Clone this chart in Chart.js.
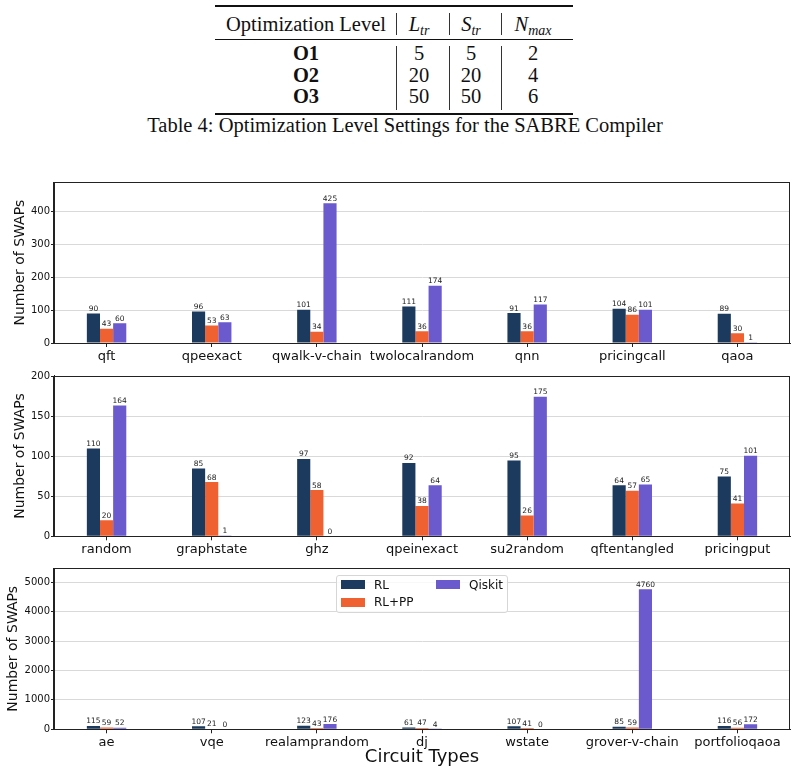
<!DOCTYPE html>
<html>
<head>
<meta charset="utf-8">
<script src="https://cdn.jsdelivr.net/npm/chart.js@4.4.1/dist/chart.umd.min.js"></script>
<style>
  body { margin: 0; background: #fff; }
  #page { position: relative; width: 796px; height: 774px; overflow: hidden; background: #fff; }
  .tbl { font-family: 'Liberation Serif', 'Times New Roman', serif; color: #111; }
  .rule { position: absolute; left: 215px; width: 358px; background: #111; }
  .vbar { position: absolute; width: 1px; background: #333; }
  .cell { position: absolute; width: 200px; margin-left: -100px; text-align: center;
          font-size: 20.5px; line-height: 20.5px; white-space: nowrap; }
  .cell sub { font-size: 14px; vertical-align: -4px; line-height: 0; }
  canvas { position: absolute; left: 0; }
  #legend { position: absolute; left: 336px; top: 575px; width: 170px; height: 36px;
            border: 1px solid #d6d6d6; border-radius: 3px; background: rgba(255,255,255,0.8);
            font-family: 'DejaVu Sans', sans-serif; font-size: 12px; color: #111; }
  .sw { position: absolute; width: 24px; height: 9px; }
  .lt { position: absolute; line-height: 12px; white-space: nowrap; }
</style>
</head>
<body>
<div id="page">
  <div id="table" class="tbl"></div>
  <canvas id="c1" width="796" height="195" style="top:170px"></canvas>
  <canvas id="c2" width="796" height="195" style="top:365px"></canvas>
  <canvas id="c3" width="796" height="214" style="top:560px"></canvas>
  <div id="legend"></div>
</div>
<script>
// table values
const levels = ['O1', 'O2', 'O3'];
const lTr = [5, 20, 50];
const sTr = [5, 20, 50];
const nMax = [2, 4, 6];

// chart values
const seriesNames = ['RL', 'RL+PP', 'Qiskit'];
const seriesColors = ['#1b3a5e', '#ef6130', '#6a5acd'];

const cats1 = ['qft', 'qpeexact', 'qwalk-v-chain', 'twolocalrandom', 'qnn', 'pricingcall', 'qaoa'];
const rl1 = [90, 96, 101, 111, 91, 104, 89];
const pp1 = [43, 53, 34, 36, 36, 86, 30];
const qk1 = [60, 63, 425, 174, 117, 101, 1];
const yTicks1 = [0, 100, 200, 300, 400];

const cats2 = ['random', 'graphstate', 'ghz', 'qpeinexact', 'su2random', 'qftentangled', 'pricingput'];
const rl2 = [110, 85, 97, 92, 95, 64, 75];
const pp2 = [20, 68, 58, 38, 26, 57, 41];
const qk2 = [164, 1, 0, 64, 175, 65, 101];
const yTicks2 = [0, 50, 100, 150, 200];

const cats3 = ['ae', 'vqe', 'realamprandom', 'dj', 'wstate', 'grover-v-chain', 'portfolioqaoa'];
const rl3 = [115, 107, 123, 61, 107, 85, 116];
const pp3 = [59, 21, 43, 47, 41, 59, 56];
const qk3 = [52, 0, 176, 4, 0, 4760, 172];
const yTicks3 = [0, 1000, 2000, 3000, 4000, 5000];

// ---- table ----
const table = document.getElementById('table');
function add(cls, style, html) {
  const d = document.createElement('div');
  d.className = cls;
  d.style.cssText = style;
  if (html !== undefined) d.innerHTML = html;
  table.appendChild(d);
}
add('rule', 'top:5.3px;height:1.6px');
add('rule', 'top:38.8px;height:1px');
add('rule', 'top:113.2px;height:1.6px');
[396, 449, 501].forEach((x) => {
  add('vbar', `left:${x}px;top:13px;height:22px`);
  add('vbar', `left:${x}px;top:46px;height:64px`);
});
const colX = [306, 419, 471, 533];
add('cell', `left:${colX[0]}px;top:14.3px`, 'Optimization Level');
add('cell', `left:${colX[1]}px;top:14.3px`, '<i>L</i><sub><i>tr</i></sub>');
add('cell', `left:${colX[2]}px;top:14.3px`, '<i>S</i><sub><i>tr</i></sub>');
add('cell', `left:${colX[3]}px;top:14.3px`, '<i>N</i><sub><i>max</i></sub>');
const rowTop = [42.8, 64.5, 86.2];
levels.forEach((lv, i) => {
  add('cell', `left:${colX[0]}px;top:${rowTop[i]}px;font-weight:bold`, lv);
  add('cell', `left:${colX[1]}px;top:${rowTop[i]}px`, lTr[i]);
  add('cell', `left:${colX[2]}px;top:${rowTop[i]}px`, sTr[i]);
  add('cell', `left:${colX[3]}px;top:${rowTop[i]}px`, nMax[i]);
});
add('cell', 'left:405px;top:114.5px;width:700px;margin-left:-350px',
  'Table 4: Optimization Level Settings for the SABRE Compiler');

// ---- legend ----
const legend = document.getElementById('legend');
const legPos = [[4, 4], [4, 21.5], [99, 4]];
seriesNames.forEach((name, i) => {
  const [lx, ly] = legPos[i];
  legend.insertAdjacentHTML('beforeend',
    `<div class="sw" style="left:${lx}px;top:${ly}px;background:${seriesColors[i]}"></div>` +
    `<div class="lt" style="left:${lx + 33}px;top:${ly - 1.5}px">${name}</div>`);
});

// ---- charts ----
const FONT = "'DejaVu Sans', sans-serif";

const barLabels = {
  id: 'barLabels',
  afterDatasetsDraw(chart) {
    const { ctx } = chart;
    ctx.save();
    ctx.font = `7.5px ${FONT}`;
    ctx.fillStyle = '#222';
    ctx.textAlign = 'center';
    ctx.textBaseline = 'alphabetic';
    chart.data.datasets.forEach((ds, i) => {
      chart.getDatasetMeta(i).data.forEach((bar, j) => {
        ctx.fillText(String(ds.data[j]), bar.x, bar.y - 2.5);
      });
    });
    ctx.restore();
  },
};

const frame = {
  id: 'frame',
  afterDraw(chart) {
    const { ctx, chartArea: a } = chart;
    ctx.save();
    ctx.strokeStyle = '#222';
    ctx.lineWidth = 1;
    const l = Math.round(a.left) - 0.5;
    const t = Math.round(a.top) + 0.5;
    const r = Math.round(a.right) - 0.5;
    const b = Math.round(a.bottom) + 0.5;
    ctx.strokeRect(l, t, r - l, b - t);
    ctx.restore();
  },
};

function makePanel(id, labels, values, yTicks, opt) {
  return new Chart(document.getElementById(id), {
    type: 'bar',
    data: {
      labels,
      datasets: values.map((v, i) => ({
        label: seriesNames[i],
        data: v,
        backgroundColor: seriesColors[i],
        borderWidth: 0,
        categoryPercentage: 0.375,
        barPercentage: 1.0,
      })),
    },
    options: {
      responsive: false,
      animation: false,
      layout: { padding: { top: opt.padTop, right: 6, left: 0, bottom: 0 } },
      plugins: { legend: { display: false }, tooltip: { enabled: false } },
      scales: {
        x: {
          offset: true,
          grid: { display: true, drawOnChartArea: false, offset: false, tickLength: 4, tickColor: '#222' },
          border: { display: true, color: '#222' },
          ticks: { autoSkip: false, maxRotation: 0, padding: 2, color: '#111', font: { family: FONT, size: 13 } },
          title: opt.xTitle
            ? { display: true, text: opt.xTitle, color: '#111', font: { family: FONT, size: 18 }, padding: { top: 0, bottom: 6 } }
            : { display: false },
          afterFit: (s) => { s.height = opt.xHeight; },
        },
        y: {
          min: 0,
          max: Math.max(...values.flat()) * 1.15,
          afterBuildTicks: (s) => { s.ticks = yTicks.map((v) => ({ value: v })); },
          ticks: {
            padding: 1, color: '#111', font: { family: FONT, size: 10 },
            callback: (v) => String(v),
          },
          grid: { color: '#d9d9d9', tickColor: '#222', tickLength: 3 },
          border: { display: true, color: '#222' },
          title: {
            display: true, text: 'Number of SWAPs', color: '#111',
            font: { family: FONT, size: 14 }, padding: { top: opt.yTitlePad, bottom: 0 },
          },
          afterFit: (s) => { s.width = 54; },
        },
      },
    },
    plugins: [barLabels, frame],
  });
}

makePanel('c1', cats1, [rl1, pp1, qk1], yTicks1, { padTop: 12.3, xHeight: 22, yTitlePad: 11.6 });
makePanel('c2', cats2, [rl2, pp2, qk2], yTicks2, { padTop: 10.7, xHeight: 23.7, yTitlePad: 11.6 });
makePanel('c3', cats3, [rl3, pp3, qk3], yTicks3, { padTop: 8.3, xHeight: 44.7, yTitlePad: 4.6, xTitle: 'Circuit Types' });
</script>
</body>
</html>
